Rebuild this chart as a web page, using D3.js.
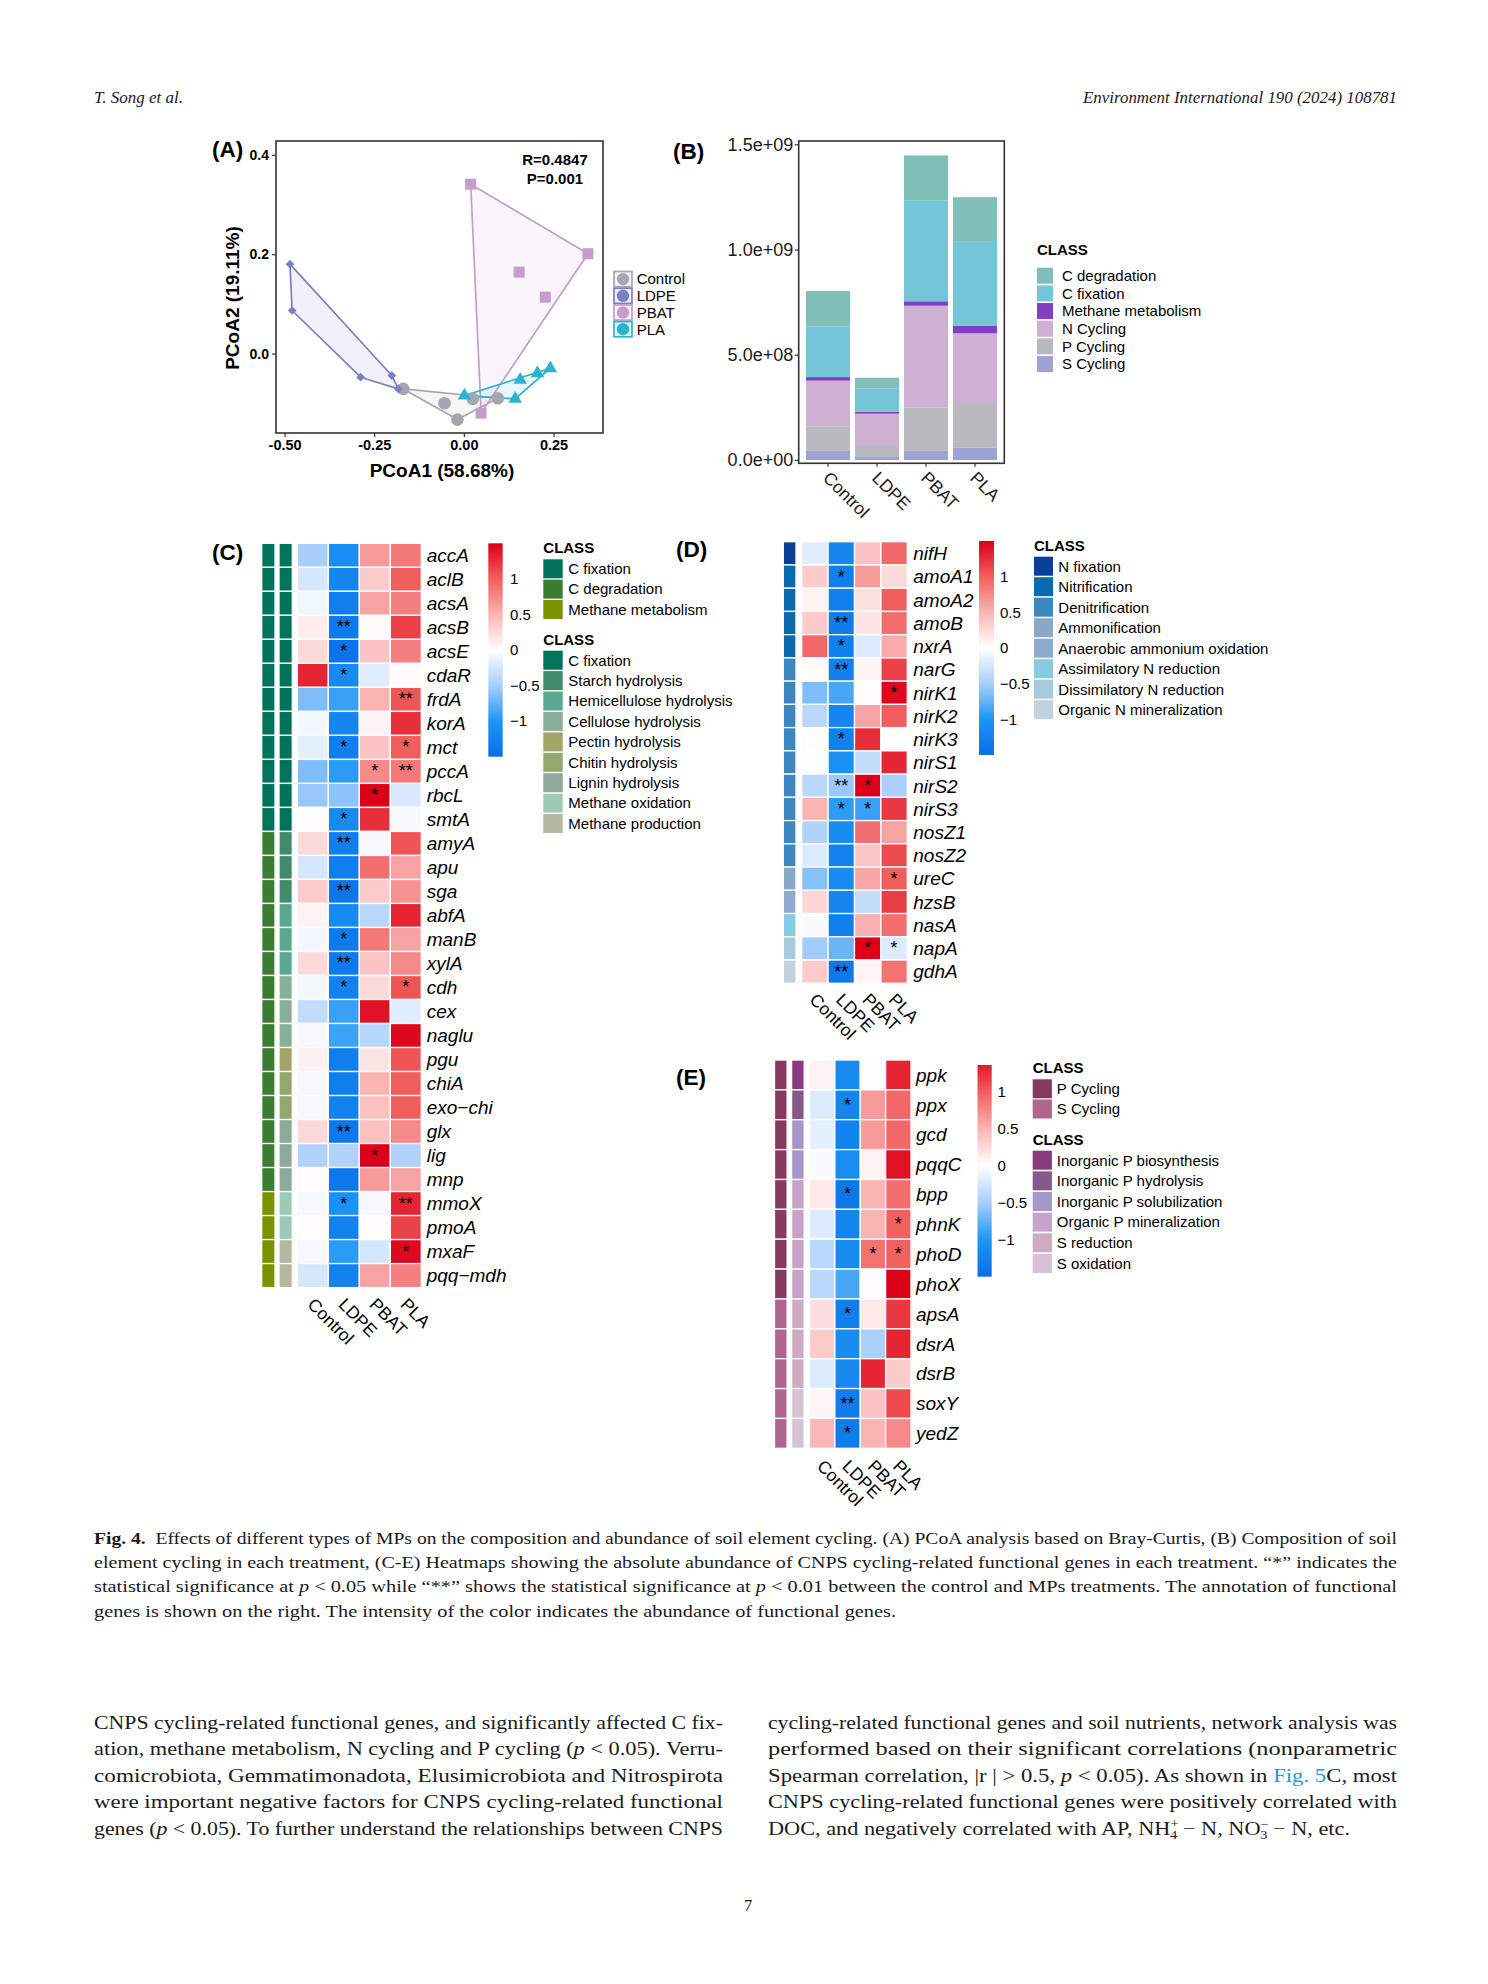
<!DOCTYPE html>
<html><head><meta charset="utf-8">
<script src="https://cdn.jsdelivr.net/npm/d3@7"></script>
<style>html,body{margin:0;padding:0;background:#fff}svg{display:block}</style>
</head><body>
<svg id="fig" width="1488" height="1984" xmlns="http://www.w3.org/2000/svg"></svg>
<script>
// ================= DATA =================
const treatments = ["Control","LDPE","PBAT","PLA"];

// (A) PCoA scores (PCoA1, PCoA2)
const pcoaControlX = [-0.169,-0.054,-0.018,0.025,0.0945];
const pcoaControlY = [-0.0712,-0.100,-0.133,-0.0913,-0.090];
const pcoaLDPEX = [-0.485,-0.479,-0.288,-0.201,-0.183];
const pcoaLDPEY = [0.180,0.0867,-0.0477,-0.0443,-0.0712];
const pcoaPBATX = [0.019,0.346,0.154,0.227,0.048];
const pcoaPBATY = [0.341,0.201,0.164,0.1135,-0.120];
const pcoaPLAX = [0.0015,0.143,0.157,0.205,0.241];
const pcoaPLAY = [-0.0846,-0.0913,-0.053,-0.0396,-0.0296];
const pcoaXTicks = [-0.5,-0.25,0,0.25];
const pcoaXTickLabels = ["-0.50","-0.25","0.00","0.25"];
const pcoaYTicks = [0,0.2,0.4];
const pcoaYTickLabels = ["0.0","0.2","0.4"];
const pcoaStats = ["R=0.4847","P=0.001"];

// (B) composition (absolute abundance), stacked bottom -> top
const barClasses = ["S Cycling","P Cycling","N Cycling","Methane metabolism","C fixation","C degradation"];
const barSCycling = [4.3e7, 1.8e7, 4.3e7, 5.8e7];
const barPCycling = [1.15e8, 5.3e7, 2.07e8, 2.13e8];
const barNCycling = [2.19e8, 1.49e8, 4.83e8, 3.31e8];
const barMethane  = [1.7e7, 9e6, 2.1e7, 3.5e7];
const barCFix     = [2.41e8, 1.12e8, 4.78e8, 4.03e8];
const barCDeg     = [1.68e8, 5.0e7, 2.15e8, 2.09e8];
const barYTicks = [0, 5e8, 1e9, 1.5e9];
const barYTickLabels = ["0.0e+00","5.0e+08","1.0e+09","1.5e+09"];
const barLegendOrder = ["C degradation","C fixation","Methane metabolism","N Cycling","P Cycling","S Cycling"];

// (C) carbon genes
const cGenes = ["accA","aclB","acsA","acsB","acsE","cdaR","frdA","korA","mct","pccA","rbcL","smtA","amyA","apu","sga","abfA","manB","xylA","cdh","cex","naglu","pgu","chiA","exo\u2212chi","glx","lig","mnp","mmoX","pmoA","mxaF","pqq\u2212mdh"];
const cControl = [-0.5,-0.25,-0.08,0.12,0.25,1.3,-0.65,-0.07,-0.15,-0.65,-0.55,0.02,0.25,-0.25,0.35,0.08,-0.07,0.25,-0.07,-0.35,-0.06,0.1,-0.06,-0.06,0.25,-0.45,0.02,-0.06,0.02,-0.06,-0.25];
const cLDPE = [-1.1,-1.2,-1.3,-1.35,-1.45,-1.15,-0.9,-1.2,-1.3,-0.95,-0.6,-1.15,-1.3,-1.3,-1.4,-1.15,-1.35,-1.35,-1.25,-0.9,-0.88,-1.3,-1.3,-1.25,-1.38,-0.45,-1.38,-1.05,-1.25,-0.95,-1.25];
const cPBAT = [0.65,0.35,0.6,0.03,0.4,-0.18,0.5,0.08,0.4,0.75,1.5,1.25,-0.06,0.9,0.35,-0.4,0.85,0.4,0.25,1.4,-0.42,0.18,0.5,0.42,0.42,1.5,0.65,-0.06,0.02,-0.25,0.6];
const cPLA = [0.85,1.0,0.8,1.15,0.8,0.03,1.05,1.25,1.0,0.85,-0.22,-0.05,1.05,0.6,0.7,1.3,0.6,0.75,1.05,-0.18,1.45,1.05,1.0,1.0,0.75,-0.45,0.6,1.3,1.15,1.45,0.8];
const cClass = [
  "C fixation","C fixation","C fixation","C fixation","C fixation","C fixation","C fixation","C fixation","C fixation","C fixation","C fixation","C fixation",
  "C degradation","C degradation","C degradation","C degradation","C degradation","C degradation","C degradation","C degradation","C degradation","C degradation","C degradation","C degradation","C degradation","C degradation","C degradation",
  "Methane metabolism","Methane metabolism","Methane metabolism","Methane metabolism"];
const cSubclass = [
  "C fixation","C fixation","C fixation","C fixation","C fixation","C fixation","C fixation","C fixation","C fixation","C fixation","C fixation","C fixation",
  "Starch hydrolysis","Starch hydrolysis","Starch hydrolysis",
  "Hemicellulose hydrolysis","Hemicellulose hydrolysis","Hemicellulose hydrolysis",
  "Cellulose hydrolysis","Cellulose hydrolysis","Cellulose hydrolysis",
  "Pectin hydrolysis","Chitin hydrolysis","Chitin hydrolysis",
  "Lignin hydrolysis","Lignin hydrolysis","Lignin hydrolysis",
  "Methane oxidation","Methane oxidation","Methane production","Methane production"];
const cSig = [["acsB","LDPE","**"],["acsE","LDPE","*"],["cdaR","LDPE","*"],["frdA","PLA","**"],["mct","LDPE","*"],["mct","PLA","*"],["pccA","PBAT","*"],["pccA","PLA","**"],["rbcL","PBAT","*"],["smtA","LDPE","*"],["amyA","LDPE","**"],["sga","LDPE","**"],["manB","LDPE","*"],["xylA","LDPE","**"],["cdh","LDPE","*"],["cdh","PLA","*"],["glx","LDPE","**"],["lig","PBAT","*"],["mmoX","LDPE","*"],["mmoX","PLA","**"],["mxaF","PLA","*"]];
const cClassLegend = ["C fixation","C degradation","Methane metabolism"];
const cSubclassLegend = ["C fixation","Starch hydrolysis","Hemicellulose hydrolysis","Cellulose hydrolysis","Pectin hydrolysis","Chitin hydrolysis","Lignin hydrolysis","Methane oxidation","Methane production"];

// (D) nitrogen genes
const dGenes = ["nifH","amoA1","amoA2","amoB","nxrA","narG","nirK1","nirK2","nirK3","nirS1","nirS2","nirS3","nosZ1","nosZ2","ureC","hzsB","nasA","napA","gdhA"];
const dControl = [-0.18,0.35,0.08,0.35,0.95,0.03,-0.65,-0.4,0.02,-0.02,-0.4,0.5,-0.45,-0.2,-0.62,0.28,-0.04,-0.52,0.35];
const dLDPE = [-1.2,-1.3,-1.28,-1.33,-1.28,-1.28,-0.85,-1.2,-1.28,-1.08,-0.55,-0.95,-1.12,-1.25,-1.12,-1.22,-1.3,-0.72,-1.38];
const dPBAT = [0.4,0.65,0.2,0.18,-0.2,0.08,0.02,0.6,1.25,-0.35,1.5,-0.9,0.9,0.38,0.58,-0.35,0.52,1.5,0.06];
const dPLA = [0.95,0.25,1.0,0.9,0.55,1.15,1.45,1.0,-0.02,1.3,-0.48,1.2,0.6,1.1,1.0,1.18,0.9,-0.2,0.88];
const dClass = ["N fixation","Nitrification","Nitrification","Nitrification","Nitrification",
  "Denitrification","Denitrification","Denitrification","Denitrification","Denitrification","Denitrification","Denitrification","Denitrification","Denitrification",
  "Ammonification","Anaerobic ammonium oxidation","Assimilatory N reduction","Dissimilatory N reduction","Organic N mineralization"];
const dSig = [["amoA1","LDPE","*"],["amoB","LDPE","**"],["nxrA","LDPE","*"],["narG","LDPE","**"],["nirK1","PLA","*"],["nirK3","LDPE","*"],["nirS2","LDPE","**"],["nirS2","PBAT","*"],["nirS3","LDPE","*"],["nirS3","PBAT","*"],["ureC","PLA","*"],["napA","PBAT","*"],["napA","PLA","*"],["gdhA","LDPE","**"]];
const dClassLegend = ["N fixation","Nitrification","Denitrification","Ammonification","Anaerobic ammonium oxidation","Assimilatory N reduction","Dissimilatory N reduction","Organic N mineralization"];

// (E) phosphorus / sulfur genes
const eGenes = ["ppk","ppx","gcd","pqqC","bpp","phnK","phoD","phoX","apsA","dsrA","dsrB","soxY","yedZ"];
const eControl = [0.08,-0.2,-0.15,-0.04,0.15,-0.2,-0.4,-0.4,0.22,0.35,-0.2,0.07,0.48];
const eLDPE = [-1.15,-1.22,-1.25,-1.1,-1.38,-1.22,-1.15,-0.85,-1.3,-1.12,-1.18,-1.33,-1.33];
const ePBAT = [-0.02,0.65,0.65,0.08,0.5,0.5,0.88,0.02,0.15,-0.48,1.3,0.4,0.5];
const ePLA = [1.3,0.95,0.95,1.4,0.9,0.98,0.98,1.5,1.2,1.3,0.35,1.1,0.75];
const eClass = ["P Cycling","P Cycling","P Cycling","P Cycling","P Cycling","P Cycling","P Cycling","P Cycling","S Cycling","S Cycling","S Cycling","S Cycling","S Cycling"];
const eSubclass = ["Inorganic P biosynthesis","Inorganic P hydrolysis","Inorganic P solubilization","Inorganic P solubilization","Organic P mineralization","Organic P mineralization","Organic P mineralization","Organic P mineralization","S reduction","S reduction","S reduction","S oxidation","S oxidation"];
const eSig = [["ppx","LDPE","*"],["bpp","LDPE","*"],["phnK","PLA","*"],["phoD","PBAT","*"],["phoD","PLA","*"],["apsA","LDPE","*"],["soxY","LDPE","**"],["yedZ","LDPE","*"]];
const eClassLegend = ["P Cycling","S Cycling"];
const eSubclassLegend = ["Inorganic P biosynthesis","Inorganic P hydrolysis","Inorganic P solubilization","Organic P mineralization","S reduction","S oxidation"];

const heatTicks = [1,0.5,0,-0.5,-1];
const heatTickLabels = ["1","0.5","0","\u22120.5","\u22121"];

// ================= STYLES =================
const SANS = "'Liberation Sans', Arial, Helvetica, sans-serif";
const SERIF = "'Liberation Serif', 'Times New Roman', serif";
const groupColor = {Control:"#a6a6ae", LDPE:"#7980c3", PBAT:"#c49dcb", PLA:"#2cb4ce"};
const barColor = {"C degradation":"#7fbfb7","C fixation":"#74c5d7","Methane metabolism":"#7f40c4","N Cycling":"#cdb0d2","P Cycling":"#b9b9bf","S Cycling":"#9fa3d3"};
const annoColor = {
  "C fixation":"#00745a","C degradation":"#3a7d33","Methane metabolism":"#7a9400",
  "Starch hydrolysis":"#418a6c","Hemicellulose hydrolysis":"#5aa88f","Cellulose hydrolysis":"#88af98",
  "Pectin hydrolysis":"#a0a668","Chitin hydrolysis":"#92a86e","Lignin hydrolysis":"#8ea89a",
  "Methane oxidation":"#9dcab4","Methane production":"#b3b9a0",
  "N fixation":"#083f98","Nitrification":"#0a6aab","Denitrification":"#3d87c0","Ammonification":"#8aa9c6",
  "Anaerobic ammonium oxidation":"#8eabcb","Assimilatory N reduction":"#86cbdf","Dissimilatory N reduction":"#a6cbdb",
  "Organic N mineralization":"#c2d3df",
  "P Cycling":"#873a60","S Cycling":"#b06590","Inorganic P biosynthesis":"#8a3b80","Inorganic P hydrolysis":"#845a8d",
  "Inorganic P solubilization":"#a597c7","Organic P mineralization":"#c7a3c9","S reduction":"#cfabc1","S oxidation":"#d5c3d5"
};
const heatColor = d3.scaleLinear()
  .domain([-1.5,-1,-0.5,0,0.5,1,1.5])
  .range(["#0a6ee8","#1c96f4","#a8cefb","#ffffff","#fab4b4","#f15e5e","#dc0018"])
  .interpolate(d3.interpolateRgb).clamp(true);

const svg = d3.select("#fig");
svg.append("rect").attr("width",1488).attr("height",1984).attr("fill","#fff");
const defs = svg.append("defs");

function label(x, y, txt, size, opt={}) {
  const t = svg.append("text").attr("x",x).attr("y",y).text(txt)
    .attr("font-family", opt.family || SANS).attr("font-size", size).attr("fill", opt.fill || "#000");
  if (opt.bold) t.attr("font-weight","bold");
  if (opt.italic) t.attr("font-style","italic");
  if (opt.anchor) t.attr("text-anchor", opt.anchor);
  if (opt.transform) t.attr("transform", opt.transform);
  return t;
}

// ================= PANEL A =================
label(212, 157, "(A)", 22.5, {bold:true});
const xA = d3.scaleLinear().domain([-0.524, 0.388]).range([276, 603]);
const yA = d3.scaleLinear().domain([-0.16, 0.428]).range([433, 141]);
const groupsA = [
  {name:"Control", xs:pcoaControlX, ys:pcoaControlY, shape:"circle"},
  {name:"LDPE", xs:pcoaLDPEX, ys:pcoaLDPEY, shape:"diamond"},
  {name:"PBAT", xs:pcoaPBATX, ys:pcoaPBATY, shape:"square"},
  {name:"PLA", xs:pcoaPLAX, ys:pcoaPLAY, shape:"triangle"}
];
const gA = svg.append("g");
groupsA.forEach(gr => {
  const pts = gr.xs.map((x,i)=>[xA(x), yA(gr.ys[i])]);
  const hull = d3.polygonHull(pts);
  gA.append("path").attr("d", "M" + hull.map(p=>p.join(",")).join("L") + "Z")
    .attr("fill", groupColor[gr.name]).attr("fill-opacity", 0.1)
    .attr("stroke", groupColor[gr.name]).attr("stroke-width", 1.7).attr("stroke-linejoin","round");
});
const symType = {circle:d3.symbolCircle, diamond:d3.symbolSquare, square:d3.symbolSquare, triangle:d3.symbolTriangle};
const symSize = {circle:125, diamond:38, square:121, triangle:80};
groupsA.forEach(gr => {
  gr.xs.forEach((x,i) => {
    gA.append("path")
      .attr("d", d3.symbol().type(symType[gr.shape]).size(symSize[gr.shape])())
      .attr("transform", `translate(${xA(x)},${yA(gr.ys[i])})` + (gr.shape==="diamond" ? " rotate(45)" : ""))
      .attr("fill", groupColor[gr.name]);
  });
});
gA.append("rect").attr("x",276).attr("y",141).attr("width",327).attr("height",292)
  .attr("fill","none").attr("stroke","#333").attr("stroke-width",1.6);
const axA1 = svg.append("g").attr("transform","translate(0,433)")
  .call(d3.axisBottom(xA).tickValues(pcoaXTicks).tickFormat((d,i)=>pcoaXTickLabels[i]).tickSize(4).tickPadding(3));
axA1.select(".domain").remove();
axA1.selectAll("text").attr("font-family",SANS).attr("font-size",14.5).attr("font-weight","bold").attr("fill","#000");
axA1.selectAll("line").attr("stroke","#333").attr("stroke-width",1.2);
const axA2 = svg.append("g").attr("transform","translate(276,0)")
  .call(d3.axisLeft(yA).tickValues(pcoaYTicks).tickFormat((d,i)=>pcoaYTickLabels[i]).tickSize(4).tickPadding(3));
axA2.select(".domain").remove();
axA2.selectAll("text").attr("font-family",SANS).attr("font-size",14).attr("font-weight","bold").attr("fill","#000");
axA2.selectAll("line").attr("stroke","#333").attr("stroke-width",1.2);
label(442, 477, "PCoA1 (58.68%)", 19, {bold:true, anchor:"middle"});
label(0, 0, "PCoA2 (19.11%)", 19, {bold:true, anchor:"middle", transform:"translate(239,298) rotate(-90)"});
label(555, 164.5, pcoaStats[0], 15, {bold:true, anchor:"middle"});
label(555, 183.5, pcoaStats[1], 15, {bold:true, anchor:"middle"});
// legend A
treatments.forEach((t,i) => {
  const y0 = 270.7 + i*16.7;
  svg.append("rect").attr("x",614).attr("y",y0+0.8).attr("width",18).attr("height",15.2)
    .attr("fill",groupColor[t]).attr("fill-opacity",0.12).attr("stroke",groupColor[t]).attr("stroke-width",1.7);
  svg.append("circle").attr("cx",623).attr("cy",y0+8.4).attr("r",6.2).attr("fill",groupColor[t]);
  label(636.7, y0+8.4+5.3, t, 15);
});

// ================= PANEL B =================
label(673, 159, "(B)", 22.5, {bold:true});
const xB = d3.scaleBand().domain(treatments).range([798.7, 1004.3]).paddingInner(0.102).paddingOuter(0.149);
const yB = d3.scaleLinear().domain([-0.0157e9, 1.5157e9]).range([463.3, 141]);
const barSeries = {"S Cycling":barSCycling,"P Cycling":barPCycling,"N Cycling":barNCycling,"Methane metabolism":barMethane,"C fixation":barCFix,"C degradation":barCDeg};
const barTable = treatments.map((t,i) => { const o = {treatment:t}; barClasses.forEach(c => o[c] = barSeries[c][i]); return o; });
const stackB = d3.stack().keys(barClasses)(barTable);
const gB = svg.append("g");
stackB.forEach(layer => {
  layer.forEach(seg => {
    gB.append("rect").attr("x", xB(seg.data.treatment)).attr("width", xB.bandwidth())
      .attr("y", yB(seg[1])).attr("height", yB(seg[0]) - yB(seg[1]))
      .attr("fill", barColor[layer.key]);
  });
});
gB.append("rect").attr("x",798.7).attr("y",141).attr("width",205.6).attr("height",322.3)
  .attr("fill","none").attr("stroke","#333").attr("stroke-width",1.6);
const axB2 = svg.append("g").attr("transform","translate(798.7,0)")
  .call(d3.axisLeft(yB).tickValues(barYTicks).tickFormat((d,i)=>barYTickLabels[i]).tickSize(4).tickPadding(1.5));
axB2.select(".domain").remove();
axB2.selectAll("text").attr("font-family",SANS).attr("font-size",18).attr("fill","#1a1a1a");
axB2.selectAll("line").attr("stroke","#333").attr("stroke-width",1.2);
const axB1 = svg.append("g").attr("transform","translate(0,463.3)")
  .call(d3.axisBottom(xB).tickSize(3.5).tickFormat(""));
axB1.select(".domain").remove();
axB1.selectAll("line").attr("stroke","#333").attr("stroke-width",1.2);
treatments.forEach(t => {
  const cx = xB(t) + xB.bandwidth()/2;
  label(0, 0, t, 17.5, {fill:"#1a1a1a", transform:`translate(${cx-6},${479})rotate(45)`});
});
label(1037, 255, "CLASS", 15, {bold:true});
barLegendOrder.forEach((c,i) => {
  const y0 = 267.7 + i*17.67;
  svg.append("rect").attr("x",1037).attr("y",y0).attr("width",16).attr("height",16).attr("fill",barColor[c]);
  label(1062, y0+8+5.3, c, 15);
});

// ================= HEATMAP HELPERS =================
function drawHeatmap(cfg) {
  const g = svg.append("g");
  const rows = d3.scaleBand().domain(cfg.genes).range([cfg.y0, cfg.y0 + cfg.genes.length*cfg.rowH]);
  const cols = d3.scaleBand().domain(treatments).range([cfg.x0, cfg.x1]);
  const colVals = {Control:cfg.values[0], LDPE:cfg.values[1], PBAT:cfg.values[2], PLA:cfg.values[3]};
  cfg.annos.forEach(a => {
    cfg.genes.forEach((gene,i) => {
      g.append("rect").attr("x",a.x).attr("y",rows(gene)).attr("width",a.w).attr("height",rows.bandwidth())
        .attr("fill",annoColor[a.classes[i]]).attr("stroke","#fff").attr("stroke-width",1.3);
    });
  });
  cfg.genes.forEach((gene,i) => {
    treatments.forEach(t => {
      g.append("rect").attr("x",cols(t)).attr("y",rows(gene)).attr("width",cols.bandwidth()).attr("height",rows.bandwidth())
        .attr("fill",heatColor(colVals[t][i])).attr("stroke","#fff").attr("stroke-width",1.3);
    });
    g.append("text").attr("x",cfg.x1 + cfg.labelGap).attr("y",rows(gene) + rows.bandwidth()/2 + 6.8)
      .attr("font-family",SANS).attr("font-size",19).attr("font-style","italic").attr("fill","#000").text(gene);
  });
  cfg.sig.forEach(s => {
    g.append("text").attr("x",cols(s[1]) + cols.bandwidth()/2).attr("y",rows(s[0]) + rows.bandwidth()/2 + 6)
      .attr("text-anchor","middle").attr("font-family",SANS).attr("font-size",18).attr("fill","#000").text(s[2]);
  });
  const bottom = cfg.y0 + cfg.genes.length*cfg.rowH;
  treatments.forEach(t => {
    const cx = cols(t) + cols.bandwidth()/2;
    g.append("text").attr("transform",`translate(${cx-6.3},${bottom+cfg.colLabelDy})rotate(45)`)
      .attr("font-family",SANS).attr("font-size",17.5).attr("fill","#000").text(t);
  });
}
function drawColorBar(id, x, w, yTop, yBot, vmax, vmin, labelX) {
  const sc = d3.scaleLinear().domain([vmin, vmax]).range([yBot, yTop]);
  const grad = defs.append("linearGradient").attr("id",id).attr("x1",0).attr("y1",1).attr("x2",0).attr("y2",0);
  d3.range(0, 31).forEach(k => {
    const f = k/30;
    grad.append("stop").attr("offset",f).attr("stop-color",heatColor(vmin + f*(vmax-vmin)));
  });
  svg.append("rect").attr("x",x).attr("y",yTop).attr("width",w).attr("height",yBot-yTop).attr("fill",`url(#${id})`);
  heatTicks.forEach((v,i) => label(labelX, sc(v)+5.3, heatTickLabels[i], 15));
}
function drawClassLegend(x, titleY, keyTop, step, keyW, keyH, textX, items) {
  label(x, titleY, "CLASS", 15, {bold:true});
  items.forEach((c,i) => {
    const y0 = keyTop + i*step;
    svg.append("rect").attr("x",x).attr("y",y0).attr("width",keyW).attr("height",keyH).attr("fill",annoColor[c]);
    label(textX, y0 + keyH/2 + 5.3, c, 15);
  });
}

// ================= PANEL C =================
label(212, 560, "(C)", 22.5, {bold:true});
drawHeatmap({genes:cGenes, values:[cControl,cLDPE,cPBAT,cPLA], sig:cSig,
  x0:297.3, x1:421.3, y0:543.3, rowH:24.01, labelGap:5.4, colLabelDy:18,
  annos:[{x:261.7, w:13.3, classes:cClass},{x:279, w:13.3, classes:cSubclass}]});
drawColorBar("gradC", 488.3, 14.4, 543.3, 756.7, 1.5, -1.5, 510);
drawClassLegend(543.3, 553.3, 559.3, 20.35, 19.4, 19, 568.3, cClassLegend);
drawClassLegend(543.3, 645, 650.7, 20.42, 19.4, 19, 568.3, cSubclassLegend);

// ================= PANEL D =================
label(676, 557, "(D)", 22.5, {bold:true});
drawHeatmap({genes:dGenes, values:[dControl,dLDPE,dPBAT,dPLA], sig:dSig,
  x0:801.7, x1:907.3, y0:541.7, rowH:23.24, labelGap:6, colLabelDy:17.6,
  annos:[{x:783.3, w:12.7, classes:dClass}]});
drawColorBar("gradD", 979, 15, 541, 755, 1.5, -1.5, 1000);
drawClassLegend(1034, 550.7, 556.7, 20.5, 19, 19, 1058.3, dClassLegend);

// ================= PANEL E =================
label(676, 1085, "(E)", 22.5, {bold:true});
drawHeatmap({genes:eGenes, values:[eControl,eLDPE,ePBAT,ePLA], sig:eSig,
  x0:809.5, x1:911, y0:1060, rowH:29.87, labelGap:5, colLabelDy:19,
  annos:[{x:774.5, w:12.6, classes:eClass},{x:791.6, w:12.6, classes:eSubclass}]});
drawColorBar("gradE", 977.5, 14.2, 1065, 1276.7, 1.36, -1.5, 997.5);
drawClassLegend(1032.7, 1072.7, 1079.3, 20.2, 19.2, 19, 1056.8, eClassLegend);
drawClassLegend(1032.7, 1145, 1150.7, 20.65, 19.2, 19, 1056.8, eSubclassLegend);

// ================= PAGE TEXT =================
function textLine(x, y, segs, size, width) {
  const t = svg.append("text").attr("x",x).attr("y",y).attr("font-family",SERIF).attr("font-size",size).attr("fill","#1a1a1a");
  if (width) t.attr("textLength",width).attr("lengthAdjust","spacingAndGlyphs");
  segs.forEach(s => {
    const seg = (typeof s === "string") ? {t:s} : s;
    const ts = t.append("tspan").text(seg.t);
    if (seg.i) ts.attr("font-style","italic");
    if (seg.b) ts.attr("font-weight","bold");
    if (seg.c) ts.attr("fill",seg.c);
    if (seg.fs) ts.attr("font-size",seg.fs);
    if (seg.dx) ts.attr("dx",seg.dx);
    if (seg.dy) ts.attr("dy",seg.dy);
  });
  return t;
}
textLine(94, 103, [{t:"T. Song et al.", i:true}], 16.5, 89);
textLine(1083, 103, [{t:"Environment International 190 (2024) 108781", i:true}], 16.5, 314);

const capSize = 17, capW = 1303;
const capY = [1544, 1568.2, 1592.4, 1616.6];
textLine(94, capY[0], [{t:"Fig. 4.", b:true}, "\u00a0 Effects of different types of MPs on the composition and abundance of soil element cycling. (A) PCoA analysis based on Bray-Curtis, (B) Composition of soil"], capSize, capW);
textLine(94, capY[1], ["element cycling in each treatment, (C-E) Heatmaps showing the absolute abundance of CNPS cycling-related functional genes in each treatment. \u201c*\u201d indicates the"], capSize, capW);
textLine(94, capY[2], ["statistical significance at ", {t:"p", i:true}, " < 0.05 while \u201c**\u201d shows the statistical significance at ", {t:"p", i:true}, " < 0.01 between the control and MPs treatments. The annotation of functional"], capSize, capW);
textLine(94, capY[3], ["genes is shown on the right. The intensity of the color indicates the abundance of functional genes."], capSize, 802);

const bodySize = 18.5, colW = 629;
const bl = [1729, 1755.4, 1781.8, 1808.2, 1834.6];
textLine(94, bl[0], ["CNPS cycling-related functional genes, and significantly affected C fix-"], bodySize, colW);
textLine(94, bl[1], ["ation, methane metabolism, N cycling and P cycling (", {t:"p", i:true}, " < 0.05). Verru-"], bodySize, colW);
textLine(94, bl[2], ["comicrobiota, Gemmatimonadota, Elusimicrobiota and Nitrospirota"], bodySize, colW);
textLine(94, bl[3], ["were important negative factors for CNPS cycling-related functional"], bodySize, colW);
textLine(94, bl[4], ["genes (", {t:"p", i:true}, " < 0.05). To further understand the relationships between CNPS"], bodySize, colW);
textLine(768, bl[0], ["cycling-related functional genes and soil nutrients, network analysis was"], bodySize, colW);
textLine(768, bl[1], ["performed based on their significant correlations (nonparametric"], bodySize, colW);
textLine(768, bl[2], ["Spearman correlation, |r | > 0.5, ", {t:"p", i:true}, " < 0.05). As shown in ", {t:"Fig. 5", c:"#1f9ad6"}, "C, most"], bodySize, colW);
textLine(768, bl[3], ["CNPS cycling-related functional genes were positively correlated with"], bodySize, colW);
textLine(768, bl[4], ["DOC, and negatively correlated with AP, NH", {t:"+", fs:12, dy:-7}, {t:"4", fs:12, dx:-7, dy:11}, {t:" \u2212 N, NO", dy:-4}, {t:"\u2212", fs:12, dy:-7}, {t:"3", fs:12, dx:-7, dy:11}, {t:" \u2212 N, etc.", dy:-4}], bodySize, 582);
textLine(748, 1911, ["7"], 16.5).attr("text-anchor","middle");
</script>
</body></html>
